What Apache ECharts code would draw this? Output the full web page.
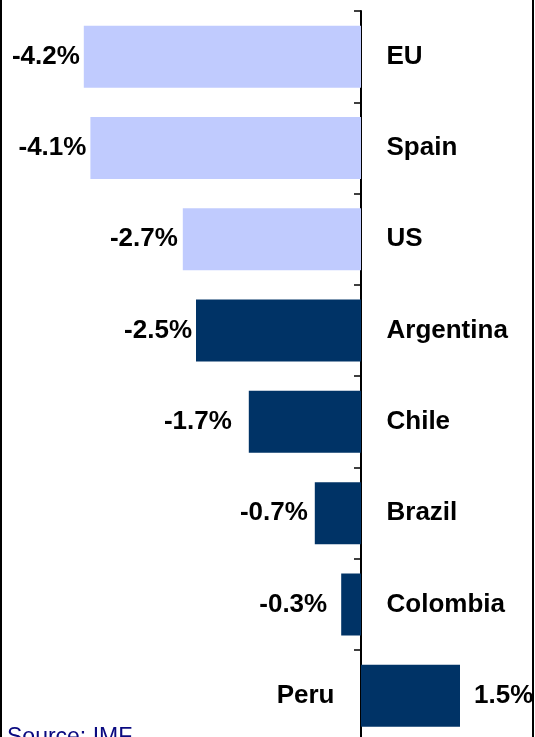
<!DOCTYPE html>
<html>
<head>
<meta charset="utf-8">
<script src="https://cdn.jsdelivr.net/npm/echarts@6/dist/echarts.min.js"></script>
<style>
  html, body { margin: 0; padding: 0; overflow: hidden; background: #ffffff; }
  #chart { width: 535px; height: 760px; }
</style>
</head>
<body>
<div id="chart"></div>
<script>
// Growth by economy, %
const categories = ['EU', 'Spain', 'US', 'Argentina', 'Chile', 'Brazil', 'Colombia', 'Peru'];
const values = [-4.2, -4.1, -2.7, -2.5, -1.7, -0.7, -0.3, 1.5];
// Advanced economies are drawn in the light shade
const advanced = ['EU', 'Spain', 'US'];
const sourceNote = 'Source: IMF';

const LIGHT = '#C0CBFE';
const DARK = '#003366';
const FONT = '"Liberation Sans", Arial, sans-serif';
// Gap (px) between each bar end and its value label
const LABEL_GAP = { EU: 4, Spain: 4, US: 5, Argentina: 4, Chile: 17, Brazil: 7, Colombia: 14, Peru: 14 };

const barData = values.map((v, i) => ({
  value: v,
  itemStyle: { color: advanced.includes(categories[i]) ? LIGHT : DARK },
  label: {
    position: v < 0 ? 'left' : 'right',
    distance: LABEL_GAP[categories[i]]
  }
}));

// Category names sit on the opposite side of the zero line from each bar
const nameData = categories.map((c, i) => ({
  value: [0, c],
  label: values[i] < 0
    ? { position: 'right', distance: 25, align: 'left' }
    : { position: 'left', distance: 26, align: 'right' }
}));

const chart = echarts.init(document.getElementById('chart'), null, { renderer: 'canvas' });
chart.setOption({
  animation: false,
  grid: { left: 31, width: 495, top: 11, height: 730.4, containLabel: false },
  xAxis: {
    type: 'value',
    min: -5,
    max: 2.5,
    show: false
  },
  yAxis: {
    type: 'category',
    data: categories,
    inverse: true,
    axisLine: { show: true, onZero: true, lineStyle: { color: '#000', width: 2 } },
    axisTick: { show: true, length: 7, lineStyle: { color: '#000', width: 1.5 } },
    axisLabel: { show: false },
    splitLine: { show: false }
  },
  series: [
    {
      type: 'bar',
      data: barData,
      barWidth: 62,
      z: 1,
      label: {
        show: true,
        fontFamily: FONT,
        fontWeight: 'bold',
        fontSize: 26,
        color: '#000',
        formatter: p => p.value.toFixed(1) + '%'
      }
    },
    {
      type: 'scatter',
      data: nameData,
      symbolSize: 1,
      itemStyle: { color: 'rgba(0,0,0,0)', opacity: 1 },
      z: 3,
      label: {
        show: true,
        fontFamily: FONT,
        fontWeight: 'bold',
        fontSize: 26,
        color: '#000',
        formatter: p => p.value[1]
      }
    }
  ],
  graphic: [
    { type: 'line', shape: { x1: 1, y1: 0, x2: 1, y2: 760 }, style: { stroke: '#000', lineWidth: 2 } },
    { type: 'line', shape: { x1: 533, y1: 0, x2: 533, y2: 760 }, style: { stroke: '#000', lineWidth: 2 } },
    {
      type: 'text', left: 7, top: 726,
      style: { text: sourceNote, font: '23px "Liberation Sans", Arial, sans-serif', fill: '#0A0A80' }
    }
  ]
});
</script>
</body>
</html>
